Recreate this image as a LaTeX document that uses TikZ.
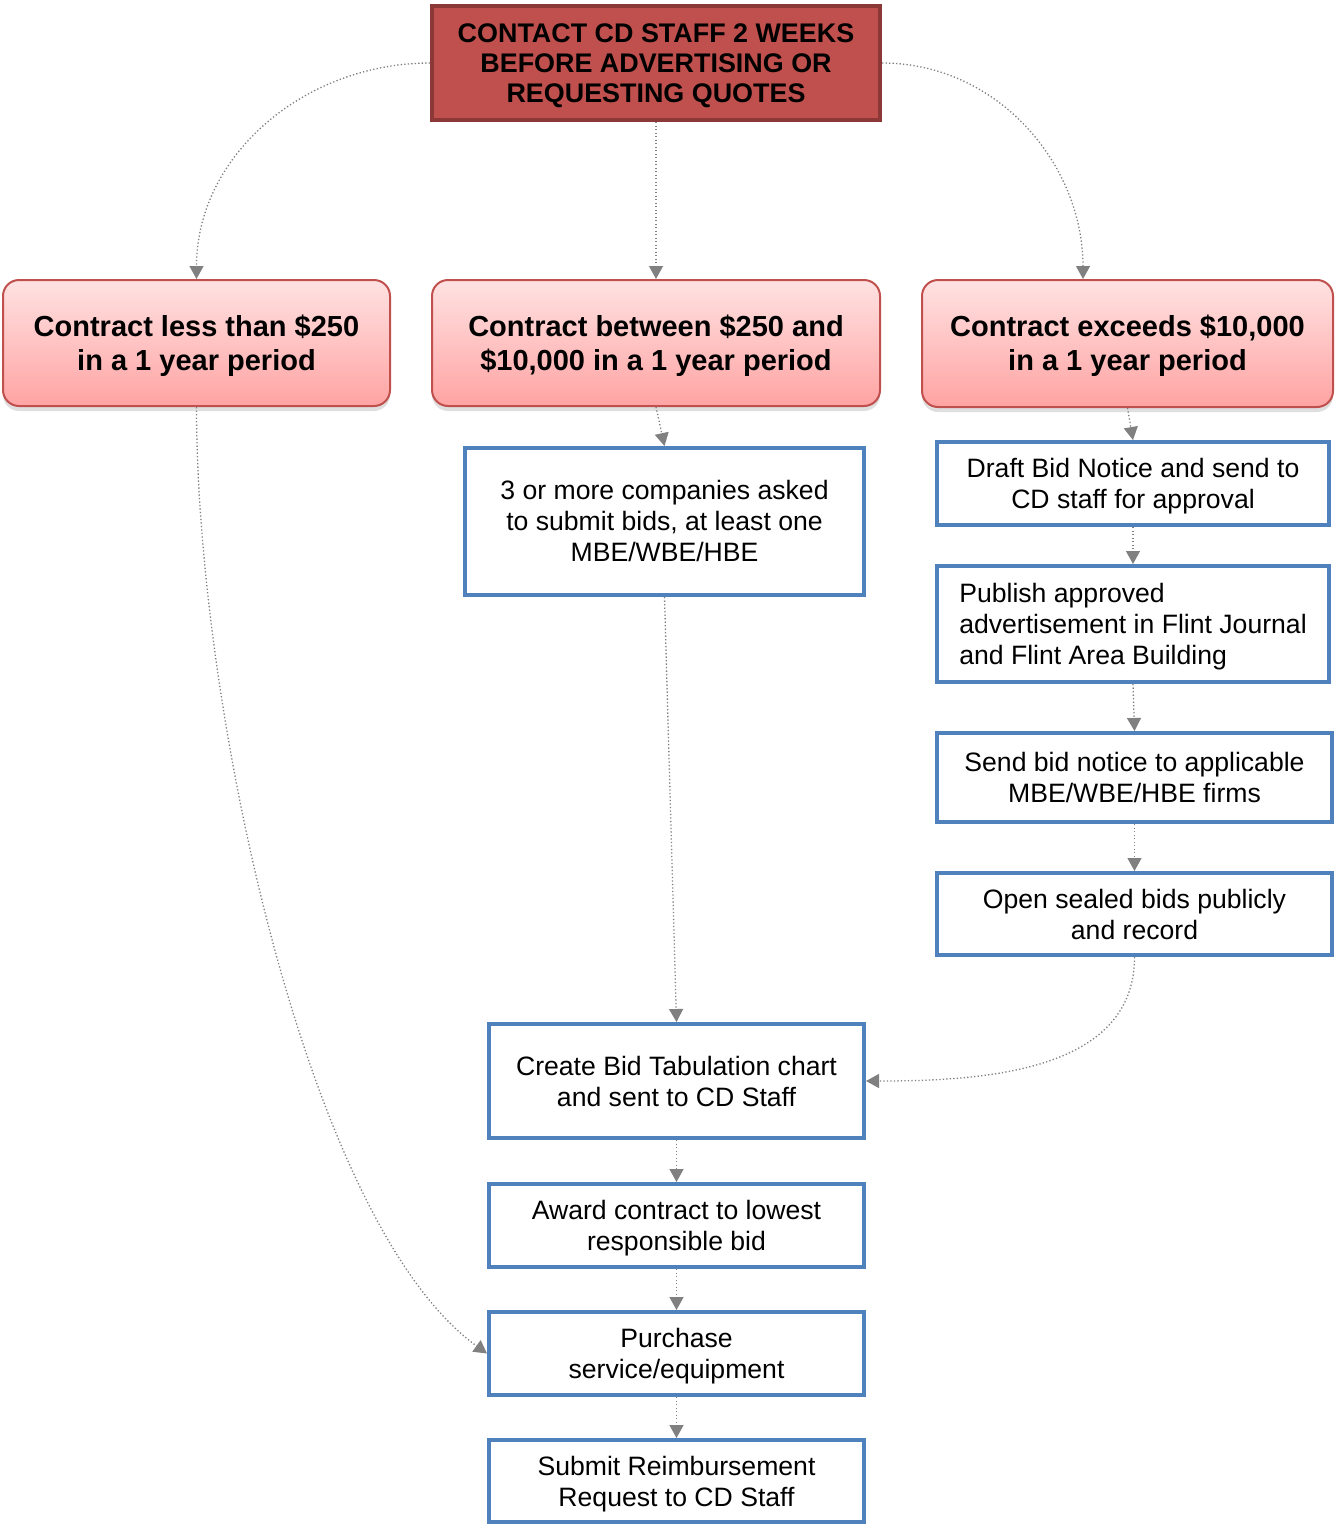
\documentclass[tikz,border=0pt]{standalone}
\usepackage{fontspec}
\setmainfont{Liberation Sans}
\usetikzlibrary{arrows.meta,shadows}
\definecolor{brick}{HTML}{C0504D}
\definecolor{brickdark}{HTML}{8C3836}
\definecolor{rosetop}{HTML}{FFE2E2}
\definecolor{rosebot}{HTML}{FFA3A3}
\definecolor{stepblue}{HTML}{4F81BD}
\definecolor{linkgray}{HTML}{808080}
\begin{document}
\begin{tikzpicture}[x=1pt,y=-1pt,
	topbox/.style={draw=brickdark, fill=brick, line width=4pt, align=center, inner sep=0pt,
		text height=79.3pt, text depth=0pt,
		font=\fontsize{26.9}{30}\selectfont\bfseries},
	rangebox/.style={draw=brick, line width=2pt, rounded corners=16pt, top color=rosetop,
		bottom color=rosebot, align=center, inner sep=0pt,
		text height=54.8pt, text depth=0pt,
		drop shadow={shadow xshift=0pt, shadow yshift=-5pt, opacity=0.25},
		font=\fontsize{29}{34}\selectfont\bfseries},
	stepbox/.style={draw=stepblue, fill=white, line width=4pt, align=center, inner sep=0pt,
		text height=50pt, text depth=0pt,
		font=\fontsize{26.6}{31}\selectfont},
	threelines/.style={text height=80.5pt},
	flow/.style={draw=linkgray, line width=1.3pt, dash pattern=on 1.3pt off 2.2pt,
		-{Triangle[length=13pt,width=14pt,fill=linkgray]}}]
	\useasboundingbox (0,0) rectangle (1336,1526);

	\path
	node[topbox, minimum width=448pt, minimum height=114pt] at (656,63) (cont) {CONTACT CD STAFF 2 WEEKS\\BEFORE ADVERTISING OR\\REQUESTING QUOTES}

	node[rangebox, minimum width=387pt, minimum height=126pt] at (196.5,343) (less) {Contract less than \$250\\in a 1 year period}
	node[rangebox, minimum width=448pt, minimum height=126pt] at (656,343) (betw) {Contract between \$250 and\\\$10,000 in a 1 year period}
	node[rangebox, minimum width=411pt, minimum height=127pt] at (1127.5,343.5) (exc) {Contract exceeds \$10,000\\in a 1 year period}

	node[stepbox, threelines, minimum width=399pt, minimum height=147pt] at (664.5,521.5) (three) {3 or more companies asked\\to submit bids, at least one\\MBE/WBE/HBE}

	node[stepbox, minimum width=392pt, minimum height=83pt] at (1133,483.5) (draft) {Draft Bid Notice and send to\\CD staff for approval}
	node[stepbox, threelines, align=left, minimum width=392pt, minimum height=116pt] at (1133,624) (publ) {Publish approved\\advertisement in Flint Journal\\and Flint Area Building}
	node[stepbox, minimum width=395pt, minimum height=89pt] at (1134.5,777.5) (send) {Send bid notice to applicable\\MBE/WBE/HBE firms}
	node[stepbox, minimum width=395pt, minimum height=82pt] at (1134.5,914) (open) {Open sealed bids publicly\\and record}

	node[stepbox, minimum width=375pt, minimum height=114pt] at (676.5,1081) (tab) {Create Bid Tabulation chart\\and sent to CD Staff}
	node[stepbox, minimum width=375pt, minimum height=83pt] at (676.5,1225.5) (award) {Award contract to lowest\\responsible bid}
	node[stepbox, minimum width=375pt, minimum height=83pt] at (676.5,1353.5) (purch) {Purchase\\service/equipment}
	node[stepbox, minimum width=375pt, minimum height=82pt] at (676.5,1481) (subm) {Submit Reimbursement\\Request to CD Staff};

	\path
	(cont.west) edge[flow, out=180, in=90] (less.north)
	(cont.south) edge[flow] (betw.north)
	(cont.east) edge[flow, out=0, in=90] ([xshift=-44.5pt]exc.north)
	(betw.south) edge[flow] (three.north)
	(three.south) edge[flow] (tab.north)
	(exc.south) edge[flow] (draft.north)
	(draft.south) edge[flow] (publ.north)
	(publ.south) edge[flow] (send.north)
	(send.south) edge[flow] (open.north)
	(open.south) edge[flow, out=-90, in=0] (tab.east)
	(tab.south) edge[flow] (award.north)
	(award.south) edge[flow] (purch.north)
	(purch.south) edge[flow] (subm.north);
	\draw[flow] (less.south) .. controls +(0,300) and +(-180,-130) .. (purch.west);
\end{tikzpicture}
\end{document}
